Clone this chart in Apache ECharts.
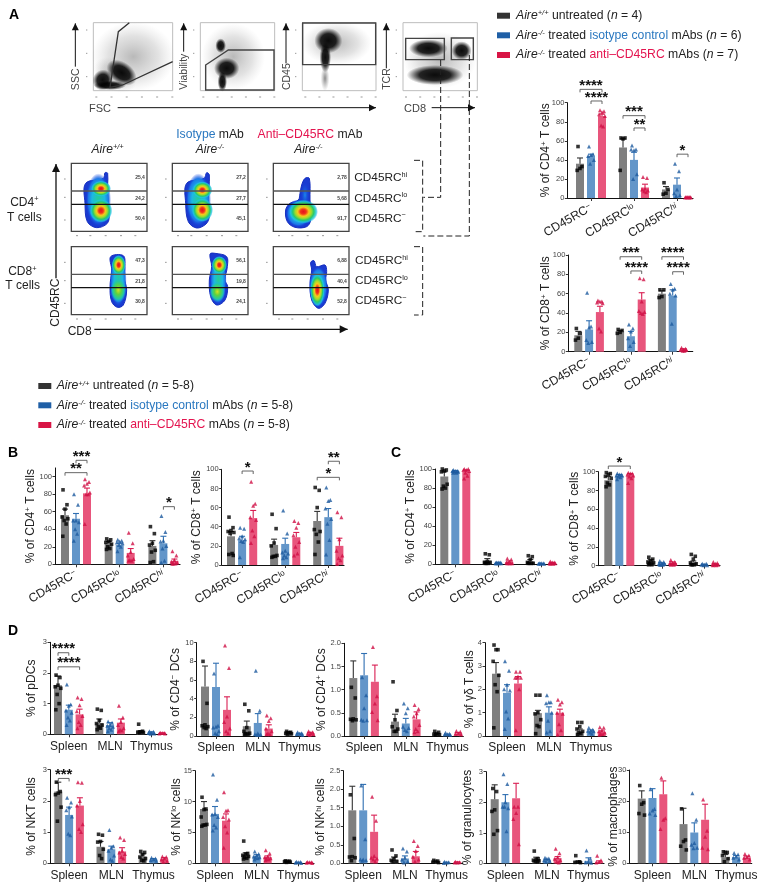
<!DOCTYPE html>
<html><head><meta charset="utf-8">
<style>html,body{margin:0;padding:0;background:#fff}#c{width:765px;height:890px}</style>
<script src="https://cdn.jsdelivr.net/npm/echarts@6/dist/echarts.min.js"></script></head>
<body><div id="c"></div>
<script>
// ---------- tick labels / categories ----------
const subsetLabels = ['CD45RC{s|−}', 'CD45RC{s|lo}', 'CD45RC{si|hi}'];
const tissueLabels = ['Spleen', 'MLN', 'Thymus'];
const pct100Ticks = [0, 20, 40, 60, 80, 100];
const treatmentNames = ['Aire+/+ untreated', 'Aire-/- isotype control', 'Aire-/- anti-CD45RC'];

// ---------- values: rows = treatment, columns = category ----------
const A1_means = [[36,53,9],[44,40,14],[86,11,0.5]];
const A1_tops  = [[42,62,12],[46,48,21],[88,14.5,1]];
const A1_pts = [[[54,33,31,29],[63,63,62,29],[16,9,5,4]],
  [[54,46,45,44,40,36],[55,51,50,51,25,20],[36,28,9,5,3,2]],
  [[92,91,90,88,86,76,75],[22,21,10,9,8,7,6],[1,1,1,0.5,0.5,0.5,0.5]]];
const A2_means = [[17,21,60],[23,16,58],[41,54,2]];
const A2_tops  = [[21,22,63],[32,21,64],[47,61,3]];
const A2_pts = [[[24,19,14,12],[23,22,20,19],[64,64,57,56]],
  [[61,26,25,12,10,9],[28,24,21,14,10,6],[70,65,64,60,58,29]],
  [[53,52,52,51,50,24,21],[76,75,52,42,41,40,39],[4,3,2,2,2,1,1]]];
const B1_means = [[56,24,21],[52,22,24],[81,13,4]];
const B1_tops  = [[63,26,27],[58,24,32],[87,18,6]];
const B1_pts = [[[85,68,63,54,52,50,46,32],[29,28,26,25,23,20,18,17],[43,35,24,22,16,14,3,2]],
  [[80,68,50,50,48,40,35,27],[28,27,26,25,24,22,20,15],[55,37,27,26,21,18,4,2]],
  [[97,94,92,90,82,80,80,46],[36,24,14,10,6,5,4,4],[15,10,5,3,2,1,1,0.5]]];
const B2_means = [[30,21,46],[26,22,50],[49,29,20]];
const B2_tops  = [[35,27,56],[30,28,59],[57,34,28]];
const B2_pts = [[[50,39,36,35,34,33,12,11,10],[53,38,23,20,10,9,9,8],[81,78,60,37,35,32,24,11]],
  [[39,38,30,28,27,25,24,8],[57,33,15,13,12,10,8,7],[81,68,67,59,48,43,26,11]],
  [[87,64,62,50,47,36,30,23],[46,44,39,31,24,19,12,10],[55,50,27,15,10,7,5,1]]];
const C1_means = [[92,4,3],[98,1.5,0.5],[97,2.5,1.5]];
const C1_tops  = [[97,6,5],[98.5,2,1],[99,3.5,2]];
const C1_pts = [[[100,99,98,97,84,82,80,79],[11,10,3,2,2,1,1,1],[9,8,5,2,1,1,1,1]],
  [[99,98,98,98,97,97,96,96],[2,2,2,1,1,1,1,1],[1,1,1,0.5,0.5,0.5]],
  [[100,100,99,99,98,96,93,90],[6,5,3,2,1,1,1,1],[3,2,2,1,1,1,0.5,0.5]]];
const C2_means = [[91,5,3.5],[95.5,2.5,1],[96,3,1.5]];
const C2_tops  = [[95,6.5,5],[97,3,1.5],[98,4,2]];
const C2_pts = [[[99,98,97,95,93,88,86,84],[9,7,5,4,3,2,1,1],[12,10,7,3,2,1,1,1]],
  [[98,97,97,96,96,95,94,92],[5,4,3,2,2,1,1,1],[2,2,1,1,0.5,0.5]],
  [[99,98,98,97,96,95,93,88],[6,4,3,3,2,2,1,1],[4,3,2,1,1,1,0.5,0.5]]];
const D1_means = [[1.6,0.37,0.1],[0.8,0.3,0.05],[0.65,0.38,0.04]];
const D1_tops  = [[1.9,0.5,0.12],[0.95,0.38,0.08],[0.82,0.5,0.05]];
const D1_pts = [[[1.93,1.85,1.6,1.55,1.5,1.3,1.0,0.8],[0.82,0.78,0.45,0.35,0.3,0.25,0.2,0.15],[0.33,0.1,0.08,0.07,0.06,0.05]],
  [[1.62,0.97,0.93,0.78,0.7,0.55,0.45,0.3],[0.42,0.38,0.3,0.28,0.25,0.2,0.15,0.1],[0.1,0.08,0.05,0.04,0.03,0.02]],
  [[1.2,1.15,0.95,0.75,0.6,0.4,0.3,0.2],[0.93,0.55,0.4,0.3,0.2,0.15,0.12,0.1],[0.05,0.04,0.04,0.03,0.03]]];
const D2_means = [[5.3,1.05,0.35],[5.25,1.4,0.25],[2.8,0.8,0.3]];
const D2_tops  = [[7.5,1.6,0.45],[7.8,2.4,0.3],[4.2,1.2,0.4]];
const D2_pts = [[[8,3.5,1.2,1.1,1.0,0.9,0.8],[3.4,2.7,0.9,0.5,0.3,0.25,0.2,0.15],[0.5,0.4,0.35,0.3,0.25,0.2]],
  [[6.7,1.1,1,0.9,0.5,0.3,0.2],[7,2.7,0.3,0.2,0.15,0.1,0.1],[0.4,0.3,0.25,0.2,0.1]],
  [[9.7,7.3,2.1,1.5,0.8,0.5,0.3],[2.2,1.9,1.6,0.8,0.5,0.3,0.2,0.2],[0.5,0.4,0.3,0.25,0.2,0.1]]];
const D3_means = [[1.25,0.31,0.04],[1.31,0.27,0.03],[1.17,0.36,0.05]];
const D3_tops  = [[1.62,0.47,0.05],[1.78,0.38,0.04],[1.53,0.52,0.07]];
const D3_pts = [[[1.05,0.82,0.37,0.36,0.35,0.33],[1.17,0.55,0.35,0.2,0.15,0.1,0.1],[0.1,0.08,0.05,0.04,0.03,0.02]],
  [[1.27,0.88,0.6,0.35,0.34,0.33],[0.7,0.6,0.49,0.2,0.17,0.13,0.1],[0.07,0.05,0.04,0.03,0.02]],
  [[1.92,0.86,0.7,0.52,0.34],[0.67,0.58,0.49,0.42,0.24,0.15,0.1,0.08],[0.11,0.09,0.06,0.05,0.03]]];
const D4_means = [[2.67,0.98,0.2],[1.85,1.0,0.2],[2.25,1.0,0.17]];
const D4_tops  = [[3.15,1.1,0.3],[2.2,1.25,0.26],[2.55,1.15,0.22]];
const D4_pts = [[[3.9,3.7,3.7,3.2,2.6,2.2,1.9,0.35],[1.75,1.75,1,0.95,0.7,0.45,0.4,0.1],[0.58,0.58,0.4,0.3,0.2,0.15,0.1,0.05]],
  [[3.2,2.8,2.2,2.0,1.95,1.05,0.75,0.3],[1.75,1.45,1.45,1.4,1.0,0.65,0.2,0.15],[0.35,0.27,0.24,0.22,0.2,0.15,0.1]],
  [[2.75,2.75,2.55,2.5,2.5,2.5,2.0,0.25],[1.55,1.45,1.35,1.0,0.95,0.5,0.25,0.05],[0.37,0.35,0.25,0.2,0.15,0.1,0.08,0.05]]];
const D5_means = [[2.3,0.53,0.22],[1.55,0.45,0.12],[1.85,0.38,0.14]];
const D5_tops  = [[2.6,0.7,0.3],[1.8,0.55,0.15],[2.1,0.5,0.18]];
const D5_pts = [[[2.6,2.3,2.25,2.2,1.8,1.35],[0.93,0.9,0.7,0.68,0.45,0.25,0.15],[0.38,0.35,0.28,0.2,0.15,0.1,0.08]],
  [[2.1,1.95,1.8,1.7,1.5,0.95,0.9],[1.07,0.55,0.5,0.4,0.25,0.12,0.08],[0.18,0.15,0.12,0.1,0.08]],
  [[2.6,2.58,2,1.85,1.25,1.1,1.0],[0.83,0.75,0.4,0.35,0.3,0.2,0.15],[0.22,0.2,0.15,0.12,0.08,0.05]]];
const D6_means = [[8.8,1.4,0.28],[8,1.15,0.13],[6.9,1,0.13]];
const D6_tops  = [[10,1.7,0.33],[9.2,1.4,0.16],[8,1.2,0.15]];
const D6_pts = [[[10.7,8.8,8.7,7.5,6.3,6.2,6.2,6],[3.6,1.6,1.5,1.3,1.1,1,0.8,0.7],[0.4,0.35,0.3,0.25,0.2,0.15]],
  [[14.4,10.3,8,7.9,7.5,6.2,5.8,5.3],[1.9,1.5,1.3,1.1,1,0.9,0.8,0.6],[0.25,0.2,0.15,0.1,0.05]],
  [[11.5,8.6,8.5,7.5,7.1,6,5,2.5],[2.1,1.6,1.1,1,0.8,0.7,0.6,0.5],[0.2,0.15,0.15,0.1,0.05]]];
const D7_means = [[1.43,0.1,0.04],[1.43,0.13,0.02],[0.85,0.19,0.03]];
const D7_tops  = [[2.08,0.17,0.05],[2.13,0.2,0.03],[1.3,0.32,0.04]];
const D7_pts = [[[1.85,0.67,0.18,0.17,0.15,0.07],[0.36,0.2,0.12,0.08,0.05,0.04],[0.08,0.06,0.05,0.03,0.02]],
  [[2.1,0.65,0.1,0.1,0.08,0.07],[0.4,0.32,0.15,0.1,0.05,0.02],[0.04,0.03,0.02,0.01]],
  [[1.8,1.15,0.2,0.15,0.13,0.1,0.05],[0.6,0.47,0.33,0.18,0.1,0.05],[0.04,0.03,0.02,0.02]]];
const D8_means = [[2.1,0.12,0.05],[2,0.1,0.08],[2.13,0.17,0.05]];
const D8_tops  = [[2.57,0.2,0.07],[2.25,0.13,0.18],[2.62,0.22,0.08]];
const D8_pts = [[[2.45,2.35,1.75,1.7,1.07,0.95],[0.4,0.15,0.13,0.1,0.08,0.06,0.05],[0.25,0.05,0.04,0.03,0.02]],
  [[2.92,2.6,2,1.85,1.8,1.85,1.05],[0.18,0.16,0.15,0.1,0.08,0.05],[0.42,0.15,0.05,0.03,0.02]],
  [[1.85,1.85,1.65,1.45,0.62],[0.48,0.33,0.2,0.15,0.1,0.05,0.03],[0.25,0.1,0.04,0.03]]];
const D9_means = [[20.8,12.6,1.9],[21,9.9,2],[22.2,14,1.8]];
const D9_tops  = [[23.3,17.7,2.8],[24,13,2.5],[26.5,19,2.3]];
const D9_pts = [[[25,19.5,19,16,15.5],[17.5,7.5,7,5.5,4.3],[3.7,3.5,3.5,2.5,1.5,0.5]],
  [[23.8,17.5,17,16,15.5],[22.5,14,6.5,6,5,4.8],[3.3,2.8,2.2,1.8,1.2]],
  [[27.5,14.5,14,11],[20.5,10.5,8.5,5,4.5],[3,2.5,2,1.8,1.2]]];

// significance brackets: [group, fromBar, toBar, value, stars]
const A1_sig = [[0,0,2,114,'****'],[0,1,2,101.8,'****'],[1,0,2,86.4,'***'],[1,1,2,73.5,'**'],[2,1,2,46,'*']];
const A2_sig = [[1,0,2,98.2,'***'],[1,1,2,83.5,'****'],[2,0,2,98.2,'****'],[2,1,2,82.7,'****']];
const B1_sig = [[0,0,2,104.6,'**'],[0,1,2,118.7,'***'],[2,1,2,65.8,'*']];
const B2_sig = [[0,1,2,98.2,'*'],[2,0,2,91.6,'*'],[2,1,2,108.4,'**']];
const C2_sig = [[0,0,2,106,'*']];
const D1_sig = [[0,0,1,2.66,'****'],[0,0,2,2.2,'****']];
const D5_sig = [[0,0,1,2.72,'***']];

// ---------- layout (pixels) ----------
const F = '"Liberation Sans", Arial, sans-serif';
const barFill = ['#7f7f7f', '#6396c9', '#e8557c'];
const ptFill  = ['#000000', '#1d5a9f', '#cf0f45'];
const errCol  = ['#333333', '#2f6fb2', '#d91e52'];
const sym = ['rect', 'triangle', 'triangle'];

function rotCats(){return {labels:subsetLabels,rotate:30};}
function flatCats(){return {labels:tissueLabels,rotate:0};}
const panels = [
 {m:A1_means,t:A1_tops,p:A1_pts,s:A1_sig,left:567.3,right:693,y0:198,yv:102.7,v:100,ymax:100,first:580,st:11,gs:43,ticks:pct100Ticks,title:'% of CD4{sp|+} T cells',gap:15,c:rotCats(),fs:12.2},
 {m:A2_means,t:A2_tops,p:A2_pts,s:A2_sig,left:568.3,right:692.7,y0:351.7,yv:255,v:100,ymax:100,first:578.3,st:10.8,gs:41.8,ticks:pct100Ticks,title:'% of CD8{sp|+} T cells',gap:16,c:rotCats(),fs:12.2},
 {m:B1_means,t:B1_tops,p:B1_pts,s:B1_sig,left:55,right:180,y0:564.3,yv:476.7,v:100,ymax:110,first:65,st:11,gs:43.7,ticks:pct100Ticks,title:'% of CD4{sp|+} T cells',gap:18,c:rotCats(),fs:12.2},
 {m:B2_means,t:B2_tops,p:B2_pts,s:B2_sig,left:221.7,right:344,y0:565,yv:469.3,v:100,ymax:100,first:231,st:11.1,gs:43.1,ticks:pct100Ticks,title:'% of CD8{sp|+} T cells',gap:19,c:rotCats(),fs:12.2},
 {m:C1_means,t:C1_tops,p:C1_pts,s:[],left:435,right:556.7,y0:564.3,yv:469,v:100,ymax:100,first:444.3,st:11,gs:43,ticks:pct100Ticks,title:'% of CD4{sp|+} T cells',gap:18,c:rotCats(),fs:12.2},
 {m:C2_means,t:C2_tops,p:C2_pts,s:C2_sig,left:598.3,right:720,y0:565.7,yv:471.7,v:100,ymax:100,first:608.3,st:11,gs:42.5,ticks:pct100Ticks,title:'% of CD8{sp|+} T cells',gap:17,c:rotCats(),fs:12.2},
 {m:D1_means,t:D1_tops,p:D1_pts,s:D1_sig,left:50,right:166.7,y0:734.3,yv:642.3,v:3,ymax:3,first:58,st:10.8,gs:41.3,ticks:[0,1,2,3],title:'% of pDCs',gap:12,c:flatCats()},
 {m:D2_means,t:D2_tops,p:D2_pts,s:[],left:196.7,right:315,y0:736,yv:642.7,v:10,ymax:10,first:205,st:11,gs:41.8,ticks:[0,2,4,6,8,10],title:'% of CD4{sp|−} DCs',gap:15,c:flatCats()},
 {m:D3_means,t:D3_tops,p:D3_pts,s:[],left:344,right:463.3,y0:736,yv:643.3,v:2,ymax:2,first:353.3,st:10.8,gs:41.7,ticks:[0,0.5,1,1.5,2],dec:1,title:'% of CD4{sp|+} DCs',gap:16,c:flatCats()},
 {m:D4_means,t:D4_tops,p:D4_pts,s:[],left:485,right:606.7,y0:736,yv:642.7,v:4,ymax:4,first:496,st:11,gs:41.9,ticks:[0,1,2,3,4],title:'% of γδ T cells',gap:9,c:flatCats()},
 {m:D5_means,t:D5_tops,p:D5_pts,s:D5_sig,left:50,right:169.3,y0:863.3,yv:769.7,v:3,ymax:3,first:58.3,st:10.8,gs:42.2,ticks:[0,1,2,3],title:'% of NKT cells',gap:12,c:flatCats()},
 {m:D6_means,t:D6_tops,p:D6_pts,s:[],left:195,right:314,y0:863.3,yv:770.7,v:15,ymax:15,first:204,st:11,gs:41.7,ticks:[0,5,10,15],title:'% of NK{sp|lo} cells',gap:12,c:flatCats()},
 {m:D7_means,t:D7_tops,p:D7_pts,s:[],left:343.3,right:462.7,y0:863.3,yv:770.7,v:2.5,ymax:2.5,first:352.3,st:10.9,gs:41.7,ticks:[0,0.5,1,1.5,2,2.5],dec:1,title:'% of NK{sp|hi} cells',gap:16,c:flatCats()},
 {m:D8_means,t:D8_tops,p:D8_pts,s:[],left:486,right:604,y0:863.3,yv:771.7,v:3,ymax:3,first:494.7,st:10.7,gs:41.5,ticks:[0,1,2,3],title:'% of granulocytes',gap:12,c:flatCats()},
 {m:D9_means,t:D9_tops,p:D9_pts,s:[],left:629.3,right:751.7,y0:863.3,yv:770,v:30,ymax:30,first:641.7,st:10.8,gs:41.8,ticks:[0,10,20,30],title:'% of macrophages',gap:10,c:flatCats()}
];

// small, fixed side-by-side spread of the dots inside a bar
const spread = [-0.18,0.18,0,-0.26,0.26,-0.08,0.1,-0.2,0.2];

const grids=[],xAxes=[],yAxes=[],series=[];
panels.forEach((P,k)=>{
  const yTop = P.y0 - (P.y0-P.yv)*P.ymax/P.v;
  grids.push({left:P.left,top:yTop,width:P.right-P.left,height:P.y0-yTop,containLabel:false});
  const slot=(g,j)=>(P.first-P.left+g*P.gs+j*P.st)/P.st;
  const centers=[0,1,2].map(g=>slot(g,1));
  xAxes.push({gridIndex:k,type:'value',min:0,max:(P.right-P.left)/P.st,
    splitLine:{show:false},
    axisLine:{show:true,onZero:false,lineStyle:{color:'#111',width:1.2}},
    axisTick:{show:true,length:3,customValues:centers,lineStyle:{color:'#333',width:1}},
    axisLabel:{show:true,customValues:centers,hideOverlap:false,showMinLabel:true,showMaxLabel:true,
      rotate:P.c.rotate,margin:P.c.rotate?9:6,color:'#222',fontFamily:F,fontSize:P.fs||12,
      formatter:(v)=>{let bi=0;centers.forEach((c,i)=>{if(Math.abs(c-v)<Math.abs(centers[bi]-v))bi=i;});
        const s=P.c.labels[bi];return s.includes('{')?'{m|'+s.replace('{','}{'):s;},
      rich:{m:{fontFamily:F,fontSize:P.fs||12,color:'#222'},
            s:{fontFamily:F,fontSize:8,color:'#222',verticalAlign:'top',lineHeight:12},
            si:{fontFamily:F,fontSize:8,fontStyle:'italic',color:'#222',verticalAlign:'top',lineHeight:12}}}});
  yAxes.push({gridIndex:k,type:'value',min:0,max:P.ymax,splitLine:{show:false},
    axisLine:{show:true,lineStyle:{color:'#111',width:1}},
    axisTick:{show:true,length:2.5,customValues:P.ticks,lineStyle:{color:'#333',width:1}},
    axisLabel:{customValues:P.ticks,margin:3,color:'#444',fontFamily:F,fontSize:7.5,
      formatter:v=>P.dec?v.toFixed(P.dec):String(v)},
    name:'{m|'+P.title.replace(/\{sp\|([^}]*)\}/,'}{sp|$1}{m|')+'}',nameLocation:'middle',nameGap:P.gap,nameRotate:90,nameMoveOverlap:false,
    nameTextStyle:{rich:{m:{fontFamily:F,fontSize:12,color:'#222'},
       sp:{fontFamily:F,fontSize:8,color:'#222',verticalAlign:'top',lineHeight:13}}}});
  [0,1,2].forEach(j=>{
    series.push({type:'bar',name:treatmentNames[j],xAxisIndex:k,yAxisIndex:k,barWidth:8,barGap:'-100%',silent:true,z:2,
      itemStyle:{color:barFill[j]},data:P.m[j].map((v,g)=>[slot(g,j),v])});
  });
  [0,1,2].forEach(j=>{
    series.push({type:'custom',xAxisIndex:k,yAxisIndex:k,silent:true,z:3,clip:false,
      encode:{x:0,y:[1,2]},data:P.m[j].map((v,g)=>[slot(g,j),v,P.t[j][g]]),
      renderItem:(params,api)=>{
        const a=api.coord([api.value(0),api.value(1)]),b=api.coord([api.value(0),api.value(2)]);
        const st={stroke:errCol[j],lineWidth:1.1,fill:null};
        return {type:'group',children:[
          {type:'line',shape:{x1:a[0],y1:a[1],x2:b[0],y2:b[1]},style:st},
          {type:'line',shape:{x1:b[0]-3,y1:b[1],x2:b[0]+3,y2:b[1]},style:st}]};
      }});
  });
  [0,1,2].forEach(j=>{
    const d=[];
    P.p[j].forEach((vals,g)=>vals.forEach((v,i)=>d.push([slot(g,j)+spread[i%spread.length],v])));
    series.push({type:'scatter',xAxisIndex:k,yAxisIndex:k,silent:true,z:4,clip:false,symbol:sym[j],symbolSize:j?4:3.6,
      itemStyle:{color:ptFill[j]},data:d});
  });
  if(P.s.length){
    series.push({type:'custom',xAxisIndex:k,yAxisIndex:k,silent:true,z:5,clip:false,
      encode:{x:[0,1],y:2},data:P.s.map(b=>[slot(b[0],b[1]),slot(b[0],b[2]),b[3]]),
      renderItem:(params,api)=>{
        const a=api.coord([api.value(0),api.value(2)]),b=api.coord([api.value(1),api.value(2)]);
        return {type:'group',children:[
          {type:'polyline',shape:{points:[[a[0],a[1]+3],[a[0],a[1]],[b[0],b[1]],[b[0],b[1]+3]]},style:{stroke:'#555',lineWidth:0.9,fill:null}},
          {type:'text',x:(a[0]+b[0])/2,y:a[1]-3.5,style:{text:P.s[params.dataIndex][4],font:'bold 15px '+F,fill:'#111',align:'center',verticalAlign:'middle'}}]};
      }});
  }
});

// ---------- static drawing of panel A and the text blocks (coordinates in 3x zoom units are divided by 3) ----------
const g=[];
const Z=v=>v/3;
function txt(x,y,text,o={}){
  g.push({type:'text',x,y,rotation:o.rot||0,z:10,silent:true,style:{text,font:(o.font||'12px ')+F,fill:o.fill||'#222',
    align:o.align||'center',verticalAlign:'middle',rich:o.rich}});
}
const riched=(size,extra)=>Object.assign({
  n:{fontFamily:F,fontSize:size,fill:'#222',color:'#222'},
  i:{fontFamily:F,fontSize:size,fontStyle:'italic',fill:'#222',color:'#222'},
  u:{fontFamily:F,fontSize:size*0.62,fill:'#222',color:'#222',verticalAlign:'top',lineHeight:size+1},
  ui:{fontFamily:F,fontSize:size*0.62,fontStyle:'italic',fill:'#222',color:'#222',verticalAlign:'top',lineHeight:size+1},
  b:{fontFamily:F,fontSize:size,fill:'#2a78c0',color:'#2a78c0'},
  r:{fontFamily:F,fontSize:size,fill:'#e4144f',color:'#e4144f'}},extra||{});
function line(x1,y1,x2,y2,stroke,w,dash){g.push({type:'line',z:6,silent:true,shape:{x1,y1,x2,y2},style:{stroke:stroke||'#222',lineWidth:w||1,lineDash:dash}});}
function rect(x,y,w,h,o){g.push({type:'rect',z:o.z||3,silent:true,shape:{x,y,width:w,height:h},style:{fill:o.fill||null,stroke:o.stroke,lineWidth:o.lw||1}});}
function poly(pts,o){g.push({type:o.open?'polyline':'polygon',z:o.z||6,silent:true,shape:{points:pts.map(p=>[Z(p[0]),Z(p[1])]),smooth:o.smooth||0},style:{fill:o.open?null:(o.fill||null),stroke:o.stroke,lineWidth:o.lw||1,lineDash:o.dash}});}
function arrow(x1,y1,x2,y2,w,s){ line(x1,y1,x2,y2,'#111',w||1);
  const dx=x2-x1,dy=y2-y1,l=Math.hypot(dx,dy),ux=dx/l,uy=dy/l;s=s||7;
  g.push({type:'polygon',z:7,silent:true,shape:{points:[[x2,y2],[x2-ux*s-uy*s*0.5,y2-uy*s+ux*s*0.5],[x2-ux*s+uy*s*0.5,y2-uy*s-ux*s*0.5]]},style:{fill:'#111'}});}
// soft blob: a gradient circle stretched into an ellipse, so the gradient follows the outline
function radial(cx,cy,rx,ry,rot,stops,z){
  g.push({type:'circle',z:z||4,silent:true,x:Z(cx),y:Z(cy),rotation:rot||0,scaleX:1,scaleY:ry/rx,shape:{cx:0,cy:0,r:Z(rx)},
    style:{fill:{type:'radial',x:0.5,y:0.5,r:0.5,colorStops:stops}}});
}
const dark=[{offset:0,color:'rgba(0,0,0,0.95)'},{offset:0.55,color:'rgba(0,0,0,0.85)'},{offset:1,color:'rgba(0,0,0,0)'}];
const haze=[{offset:0,color:'rgba(70,70,70,0.38)'},{offset:0.6,color:'rgba(110,110,110,0.2)'},{offset:1,color:'rgba(150,150,150,0)'}];
const hot=[{offset:0,color:'#e4101c'},{offset:0.2,color:'#f0341a'},{offset:0.38,color:'#f7c81c'},{offset:0.55,color:'#9fdc2c'},{offset:0.72,color:'#27c96a'},{offset:0.88,color:'rgba(30,200,220,0.8)'},{offset:1,color:'rgba(30,170,240,0)'}];
const warm=[{offset:0,color:'#d6e020'},{offset:0.35,color:'#5fd23c'},{offset:0.7,color:'#22c9a0'},{offset:1,color:'rgba(30,170,240,0)'}];
const cool=[{offset:0,color:'#25cf90'},{offset:0.5,color:'#1cb8e4'},{offset:0.8,color:'#1c78e8'},{offset:1,color:'rgba(20,60,220,0)'}];

// scatter plot frames
const frames=[[280,518],[601,824],[907,1128],[1209,1432]];
frames.forEach(f=>{rect(Z(f[0]),Z(68),Z(f[1]-f[0]),Z(204),{stroke:'#bdbdbd',lw:1,z:3});
  for(let i=0;i<6;i++){line(Z(f[0]+6+i*(f[1]-f[0]-10)/5),Z(291),Z(f[0]+6+i*(f[1]-f[0]-10)/5)+2,Z(291),'#999',1);}
  for(let i=0;i<3;i++){line(Z(f[0]-22),Z(90+i*70),Z(f[0]-18),Z(90+i*70),'#999',1);}
});
// cell clouds
radial(400,170,125,105,0,haze);
radial(345,225,70,48,-0.5,haze);
radial(308,240,30,32,-0.6,dark);
radial(365,218,50,32,-0.6,dark);
radial(330,256,48,14,0,dark);
radial(700,170,95,100,0,haze);
radial(662,137,16,22,0,dark);
radial(680,205,38,32,0,dark);
radial(667,245,14,30,0,dark);
radial(1010,130,105,65,0,haze);
radial(985,122,42,38,0,dark);
radial(976,172,17,45,0,dark);
radial(975,235,13,38,0,[{offset:0,color:'rgba(60,60,60,0.6)'},{offset:1,color:'rgba(100,100,100,0)'}]);
radial(1320,180,110,85,0,haze);
radial(1285,145,58,27,0,dark);
radial(1385,152,30,28,0,dark);
radial(1305,225,85,30,0,dark);
// gates
poly([[388,68],[355,95],[330,262],[368,255],[518,185]],{open:true,stroke:'#333',lw:1.3});
poly([[617,195],[685,150],[822,150],[822,270],[617,270]],{stroke:'#444',lw:1.4});
rect(Z(908),Z(69),Z(219),Z(125),{stroke:'#444',lw:1.4,z:6});
rect(Z(1217),Z(115),Z(116),Z(64),{stroke:'#444',lw:1.4,z:6});
rect(Z(1354),Z(114),Z(66),Z(65),{stroke:'#444',lw:1.4,z:6});
// gating arrows
arrow(Z(226),Z(200),Z(226),Z(70),1,7);
arrow(Z(551),Z(155),Z(551),Z(70),1,7);
arrow(Z(858),Z(190),Z(858),Z(70),1,7);
arrow(Z(1159),Z(205),Z(1159),Z(70),1,7);
arrow(Z(353),Z(323),Z(1128),Z(323),1,7);
arrow(Z(1295),Z(323),Z(1425),Z(323),1,7);
txt(Z(229),Z(238),'SSC',{font:'10.5px ',fill:'#444',rot:Math.PI/2});
txt(Z(553),Z(215),'Viability',{font:'10.5px ',fill:'#444',rot:Math.PI/2});
txt(Z(861),Z(230),'CD45',{font:'10.5px ',fill:'#444',rot:Math.PI/2});
txt(Z(1161),Z(237),'TCR',{font:'10.5px ',fill:'#444',rot:Math.PI/2});
txt(Z(300),Z(326),'FSC',{font:'11px ',fill:'#444'});
txt(Z(1245),Z(327),'CD8',{font:'11px ',fill:'#444'});
// dashed gating links
const dash=[6,3];
poly([[1322,180],[1322,592],[1270,592]],{open:true,stroke:'#222',dash});
poly([[1408,165],[1408,708],[1270,708]],{open:true,stroke:'#222',dash});
poly([[1242,481],[1268,481],[1268,695],[1242,695]],{open:true,stroke:'#222',dash});
poly([[1242,740],[1268,740],[1268,945],[1242,945]],{open:true,stroke:'#222',dash});

// headings of the density plots
txt(Z(630),Z(405),'{b|Isotype} {n|mAb}',{rich:riched(12.2)});
txt(Z(930),Z(405),'{r|Anti–CD45RC} {n|mAb}',{rich:riched(12.2)});
txt(Z(323),Z(450),'{i|Aire}{ui|+/+}',{rich:riched(12)});
txt(Z(630),Z(450),'{i|Aire}{ui|-/-}',{rich:riched(12)});
txt(Z(925),Z(450),'{i|Aire}{ui|-/-}',{rich:riched(12)});

// density plots
const colX=[214,517,820], rowY=[490,740];
const shapes=[
 [[[257,550],[310,535],[315,518],[323,520],[322,590],[328,640],[322,670],[290,683],[262,665],[255,610]],
  [[295,600,38,80,cool],[303,566,30,24,hot],[303,632,34,36,hot]]],
 [[[560,550],[612,535],[620,518],[628,525],[625,600],[628,650],[618,672],[590,684],[565,665],[557,610]],
  [[595,600,38,80,cool],[607,570,30,26,hot],[607,630,32,36,hot]]],
 [[[905,555],[915,535],[928,535],[930,600],[932,660],[920,680],[885,682],[862,665],[857,630],[870,610],[895,600],[900,580]],
  [[915,585,14,40,[{offset:0,color:'#1c88e8'},{offset:1,color:'rgba(20,60,220,0)'}]],[895,640,38,42,cool],[910,635,44,36,hot]]],
 [[[332,770],[370,767],[375,800],[372,830],[380,870],[370,915],[352,922],[335,905],[330,860],[335,810]],
  [[355,840,25,80,cool],[356,795,21,30,hot],[355,870,24,38,warm]]],
 [[[630,762],[645,760],[680,770],[682,800],[675,840],[683,860],[675,900],[650,915],[632,890],[628,840],[635,800]],
  [[655,840,25,75,cool],[658,795,23,27,hot],[652,875,24,32,warm]]],
 [[[932,787],[942,782],[950,800],[975,795],[980,815],[977,840],[985,870],[975,910],[955,925],[935,900],[930,850],[935,810]],
  [[955,860,28,62,cool],[952,870,22,50,hot]]]
];
const vals=[['25,4','24,2','50,4'],['27,2','27,7','45,1'],['2,78','5,68','91,7'],['47,3','21,8','30,8'],['56,1','19,8','24,1'],['6,88','40,4','52,8']];
for(let r=0;r<2;r++)for(let c=0;c<3;c++){
  const x=colX[c],y=rowY[r],sh=shapes[r*3+c];
  poly(sh[0],{fill:'#1a3ad0',stroke:'#1730c0',smooth:0.35,z:3});
  sh[1].forEach(e=>radial(e[0],e[1],e[2],e[3],0,e[4],4));
  rect(Z(x),Z(y),Z(227),Z(204),{stroke:'#444',lw:1.3,z:6});
  line(Z(x),Z(y+83),Z(x+227),Z(y+83),'#555',1.3);
  line(Z(x),Z(y+123),Z(x+227),Z(y+123),'#111',1.2);
  vals[r*3+c].forEach((t,i)=>txt(Z(x+206),Z(y+[43,105,165][i]),t,{font:'bold 5px ',fill:'#444'}));
  [14,54,100,146,189].forEach(dx=>line(Z(x+dx),Z(y+217),Z(x+dx)+2,Z(y+217),'#999',1));
  [47,102,170].forEach(dy=>line(Z(x-22),Z(y+dy),Z(x-17),Z(y+dy),'#999',1));
}
const subLab=['{n|CD45RC}{u|hi}','{n|CD45RC}{u|lo}','{n|CD45RC}{u|−}'];
[[533,595,655,1063],[782,843,903,1065]].forEach(a=>{for(let i=0;i<3;i++)txt(Z(a[3]),Z(a[i]),subLab[i],{align:'left',rich:riched(11.8)});});
txt(Z(73),Z(607),'{n|CD4}{u|+}',{rich:riched(12)});
txt(Z(73),Z(652),'T cells',{font:'12px '});
txt(Z(67),Z(815),'{n|CD8}{u|+}',{rich:riched(12)});
txt(Z(68),Z(858),'T cells',{font:'12px '});
arrow(Z(168),Z(835),Z(168),Z(492),1.3,8);
arrow(Z(283),Z(988),Z(1043),Z(988),1.4,8);
txt(Z(166),Z(908),'CD45RC',{font:'12px ',rot:Math.PI/2});
txt(Z(239),Z(996),'CD8',{font:'12px '});

// legends
const swatch=['#333333','#1f5fa6','#d81545'];
[[15.7,35.3,55,497,516,'4','6','7'],[386,405.3,425,38.3,56.7,'5-8','5-8','5-8']].forEach(L=>{
  const x=L[3],tx=L[4];
  const rows=[
    '{i|Aire}{ui|+/+}{n| untreated (}{i|n}{n| = '+L[5]+')}',
    '{i|Aire}{ui|-/-}{n| treated }{b|isotype control}{n| mAbs (}{i|n}{n| = '+L[6]+')}',
    '{i|Aire}{ui|-/-}{n| treated }{r|anti–CD45RC}{n| mAbs (}{i|n}{n| = '+L[7]+')}'];
  [0,1,2].forEach(i=>{
    rect(x,L[i]-3,13,6,{fill:swatch[i],z:6});
    txt(tx,L[i],rows[i],{align:'left',rich:riched(12.2)});
  });
});
// panel letters
[['A',14,15],['B',13,453],['C',396,453],['D',13,631]].forEach(a=>txt(a[1],a[2],a[0],{font:'bold 14px ',fill:'#000'}));

const chart=echarts.init(document.getElementById('c'),null,{renderer:'canvas',width:765,height:890});
chart.setOption({animation:false,backgroundColor:'#fff',grid:grids,xAxis:xAxes,yAxis:yAxes,series,graphic:{elements:g}});
</script></body></html>
